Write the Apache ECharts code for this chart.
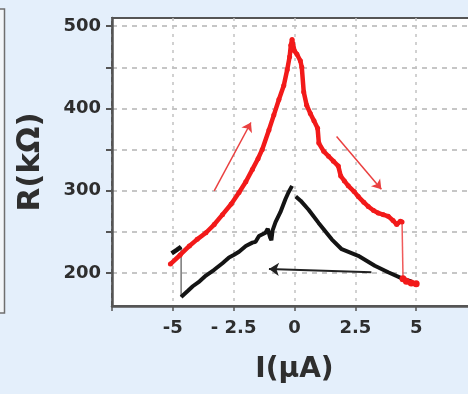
<!DOCTYPE html>
<html>
<head>
<meta charset="utf-8">
<script src="https://cdn.jsdelivr.net/npm/echarts@6/dist/echarts.min.js"></script>
<style>
  html, body { margin: 0; padding: 0; background: #e4effb; overflow: hidden; width: 468px; height: 394px; }
  #chart { width: 480px; height: 394px; }
</style>
</head>
<body>
<div id="chart"></div>
<script>
// ---- data ----
const xTicks = [-5, -2.5, 0, 2.5, 5];
const yTickValues = [200, 250, 300, 350, 400, 450, 500];
const yLabelValues = [200, 300, 400, 500];

// red sweep (-5 -> +5), thick line
const redSweep = [
  [-5.1, 211], [-4.7, 222], [-4.32, 233], [-4.0, 241], [-3.64, 249], [-3.3, 259],
  [-2.96, 271], [-2.6, 284], [-2.28, 298], [-2.0, 311], [-1.73, 326], [-1.5, 339],
  [-1.33, 350], [-1.05, 374], [-0.85, 392], [-0.64, 411], [-0.44, 428], [-0.3, 447],
  [-0.2, 463], [-0.15, 477], [-0.1, 484],
  [0.0, 470], [0.1, 466], [0.24, 458], [0.3, 450], [0.38, 420], [0.5, 404],
  [0.65, 394], [0.8, 385], [0.95, 376], [1.0, 358], [1.2, 348], [1.4, 342],
  [1.6, 336], [1.8, 330], [1.9, 318], [2.05, 312], [2.21, 306], [2.45, 299],
  [2.62, 293], [2.85, 286], [3.03, 281], [3.25, 276], [3.44, 273], [3.65, 271],
  [3.85, 269], [4.05, 264], [4.2, 259], [4.35, 263], [4.42, 262]
];
// red thin drop
const redDrop = [[4.42, 262], [4.46, 193]];
// red end blob
const redEnd = [[4.46, 193], [4.6, 190], [4.8, 188], [5.0, 187]];

// black sweep (+5 -> -5)
const blackRight = [
  [4.8, 190], [4.46, 193], [3.85, 201], [3.3, 209], [2.62, 221], [1.94, 229],
  [1.53, 241], [0.99, 261], [0.58, 277], [0.25, 288], [0.05, 293]
];
const blackLeft = [
  [-0.1, 306], [-0.25, 298], [-0.37, 290], [-0.58, 274], [-0.78, 262], [-0.9, 252],
  [-0.95, 240], [-1.0, 243], [-1.1, 254], [-1.19, 249], [-1.46, 245], [-1.6, 238],
  [-1.73, 237], [-2.0, 233], [-2.28, 226], [-2.5, 222], [-2.69, 219], [-2.96, 212],
  [-3.3, 204], [-3.64, 197], [-3.9, 190], [-4.18, 184], [-4.4, 178], [-4.66, 171]
];
const blackJump = [[-4.66, 171], [-4.66, 232]];
const blackEnd = [[-4.66, 232], [-4.85, 228], [-5.05, 224]];

// arrows
const redArrowUp = [[-3.3, 300], [-1.79, 383]];
const redArrowDown = [[1.73, 366], [3.57, 302]];
const blackArrow = [[3.16, 201], [-1.05, 205]];

// ---- chart ----
const RED = '#f21a1a';
const BLACK = '#141414';
const FONT = 'DejaVu Sans';

function arrowSeries(pts, color, width, size) {
  return {
    type: 'line', data: [], silent: true,
    markLine: {
      silent: true, symbol: ['none', 'arrow'], symbolSize: size,
      label: { show: false },
      lineStyle: { color: color, width: width, type: 'solid' },
      emphasis: { disabled: true },
      data: [[{ coord: pts[0] }, { coord: pts[1] }]]
    }
  };
}

const chart = echarts.init(document.getElementById('chart'));
chart.setOption({
  backgroundColor: '#e4effb',
  animation: false,
  textStyle: { fontFamily: FONT },
  graphic: [{
    type: 'rect', shape: { x: -10, y: 9, width: 14.5, height: 304 },
    style: { fill: '#f3f6f9', stroke: '#6f6f6f', lineWidth: 1.5 }
  }],
  grid: {
    left: 112, top: 18, right: 0.5, bottom: 88,
    show: true, backgroundColor: '#ffffff', borderColor: '#555', borderWidth: 2
  },
  xAxis: {
    type: 'value', min: -7.5, max: 7.5, interval: 2.5,
    name: 'I(μA)', nameLocation: 'middle', nameGap: 50,
    nameTextStyle: { fontFamily: FONT, fontWeight: 'bold', fontSize: 28, color: '#2e2e2e' },
    axisLine: { onZero: false, lineStyle: { color: '#555', width: 2.5 } },
    axisTick: { show: true, length: 5, lineStyle: { color: '#555', width: 1.5 } },
    axisLabel: {
      margin: 13, fontFamily: FONT, fontWeight: 'bold', fontSize: 18, color: '#2e2e2e',
      formatter: function (v) {
        if (xTicks.indexOf(v) < 0) return '';
        if (v === -2.5) return '- 2.5';
        return String(v);
      }
    },
    splitLine: { show: true, lineStyle: { color: '#c2c2c2', type: [3, 5], width: 1.5 } }
  },
  yAxis: {
    type: 'value', min: 160, max: 510,
    name: 'R(kΩ)', nameLocation: 'middle', nameGap: 66, nameRotate: 90,
    nameTextStyle: { fontFamily: FONT, fontWeight: 'bold', fontSize: 31, color: '#2e2e2e' },
    axisLine: { show: true, onZero: false, lineStyle: { color: '#555', width: 2.5 } },
    axisTick: { show: true, length: 6, customValues: yTickValues, lineStyle: { color: '#555', width: 2 } },
    axisLabel: {
      margin: 11, fontFamily: FONT, fontWeight: 'bold', fontSize: 18, color: '#2e2e2e',
      customValues: yLabelValues
    },
    splitLine: { show: true, lineStyle: { color: '#b4b4b4', type: [5, 5], width: 1.5 } }
  },
  series: [
    { type: 'line', data: redSweep, lineStyle: { color: RED, width: 4.5 }, itemStyle: { color: RED },
      symbol: 'circle', symbolSize: 5, showSymbol: true, z: 5 },
    { type: 'line', data: redDrop, lineStyle: { color: '#f05a5a', width: 1.5 }, symbol: 'none', z: 4 },
    { type: 'line', data: redEnd, lineStyle: { color: RED, width: 5 }, itemStyle: { color: RED },
      symbol: 'circle', symbolSize: 7, z: 5 },
    { type: 'line', data: blackRight, lineStyle: { color: BLACK, width: 4 }, symbol: 'none', z: 4 },
    { type: 'line', data: blackLeft, lineStyle: { color: BLACK, width: 4 }, symbol: 'none', z: 4 },
    { type: 'line', data: blackJump, lineStyle: { color: '#555', width: 1.2 }, symbol: 'none', z: 3 },
    { type: 'line', data: blackEnd, lineStyle: { color: BLACK, width: 4.5 }, symbol: 'none', z: 6 },
    arrowSeries(redArrowUp, '#ea4040', 1.5, 9),
    arrowSeries(redArrowDown, '#ea4040', 1.5, 9),
    arrowSeries(blackArrow, '#222', 2, 10)
  ]
});
</script>
</body>
</html>
